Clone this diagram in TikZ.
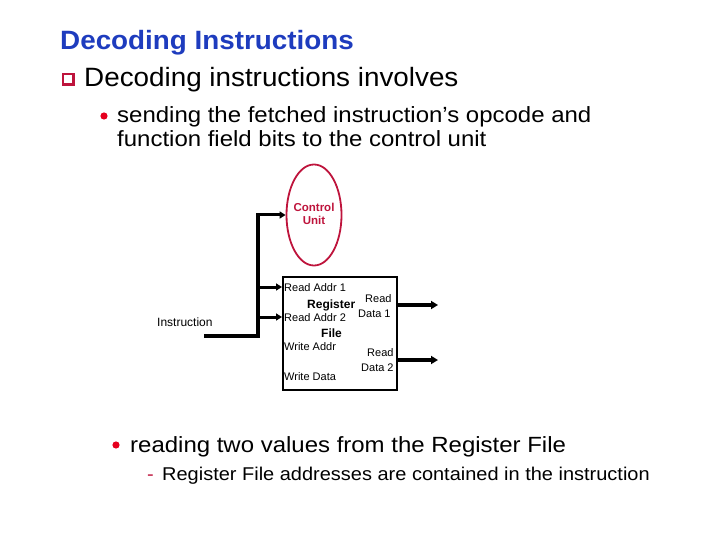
\documentclass[tikz,border=0pt]{standalone}
\usepackage{fontspec}
\setmainfont{Liberation Sans}
\newfontfamily\wideA[FakeStretch=1.05]{Liberation Sans}
\newfontfamily\wideB[FakeStretch=1.09]{Liberation Sans}
\newfontfamily\wideC[FakeStretch=1.08]{Liberation Sans}
\usetikzlibrary{arrows.meta,shapes.geometric}
\definecolor{titleblue}{RGB}{30,60,190}
\definecolor{crimson}{RGB}{190,20,60}
\definecolor{dotred}{RGB}{230,0,30}
\tikzset{
  wire/.style={line width=3.2pt},
  arr/.style={line width=3.4pt,-{Triangle[length=7pt,width=8pt]}},
  inarr/.style={line width=3pt,-{Triangle[length=6pt,width=7pt]}},
  small/.style={font=\fontsize{11}{12}\selectfont,inner sep=0pt},
  smallb/.style={font=\fontsize{12}{13}\selectfont\bfseries,inner sep=0pt},
  txt/.style={anchor=base west,inner sep=0pt},
  big/.style={font=\wideB\fontsize{22}{24}\selectfont},
}
\begin{document}
\begin{tikzpicture}[x=1pt,y=-1pt]
\useasboundingbox (0,0) rectangle (720,540);
% title
\node[txt,text=titleblue,font=\wideA\fontsize{26.5}{28}\selectfont\bfseries] (title) at (60,50) {Decoding Instructions};
% square bullet
\fill[crimson] (62,73) rectangle (75,86);
\fill[white] (64,75) rectangle (72,83);
\node[txt,font=\wideA\fontsize{26.5}{28}\selectfont] (l1) at (84,87) {Decoding instructions involves};
% bullet 1
\fill[dotred] (104,116) circle (3.6);
\node[txt,big] (l2) at (117,123) {sending the fetched instruction’s opcode and};
\node[txt,big] (l3) at (117,147) {function field bits to the control unit};
% control unit
\node[draw=crimson,line width=1.8pt,ellipse,minimum width=55,minimum height=101,inner sep=0pt] (cu) at (314,215) {};
\node[font=\fontsize{11.5}{12}\selectfont\bfseries,inner sep=0pt,text=crimson,align=center] (cut) at (314,214) {Control\\[1pt]Unit};
% register file
\node[draw,line width=1.8pt,minimum width=114,minimum height=113,inner sep=0pt,anchor=north west] (rf) at (282,276) {};
\node[small,txt] (ra1) at (284,291) {Read Addr 1};
\node[smallb,txt] (reg) at (307,308) {Register};
\node[small,txt] (rd1a) at (365,302) {Read};
\node[small,txt] (ra2) at (284,321) {Read Addr 2};
\node[small,txt] (rd1b) at (358,317) {Data 1};
\node[smallb,txt] (file) at (321,337) {File};
\node[small,txt] (wa) at (284,350) {Write Addr};
\node[small,txt] (rd2a) at (367,356) {Read};
\node[small,txt] (rd2b) at (361,371) {Data 2};
\node[small,txt] (wd) at (284,380) {Write Data};
% instruction
\node[txt,font=\fontsize{12}{13}\selectfont] (instr) at (157,326) {Instruction};
\coordinate (in0) at (204,336);
\coordinate (bus) at (258,336);
\draw[wire] (in0) -- (bus) -- (258,215);
\draw[inarr] (256.4,215) -- (cu.west);
\draw[inarr] (258,287) -- (282,287);
\draw[inarr] (258,317) -- (282,317);
% outputs
\coordinate (o1) at (438,305);
\coordinate (o2) at (438,360);
\draw[arr] (396,305) -- (o1);
\draw[arr] (396,360) -- (o2);
% bottom bullets
\fill[dotred] (116,445) circle (3.6);
\node[txt,big] (l4) at (130,452) {reading two values from the Register File};
\node[txt,text=crimson,font=\wideC\fontsize{18.5}{20}\selectfont] (dash) at (147,480) {-};
\node[txt,font=\wideC\fontsize{18.5}{20}\selectfont] (l5) at (162,480) {Register File addresses are contained in the instruction};
\end{tikzpicture}
\end{document}
